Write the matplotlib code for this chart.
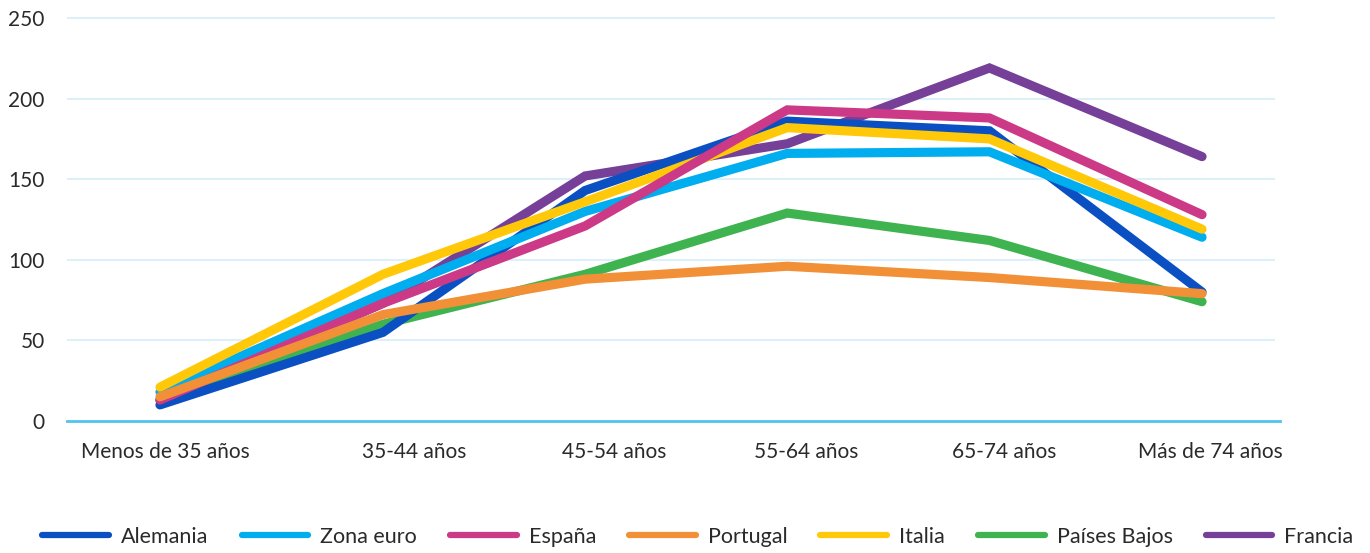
import matplotlib
matplotlib.use("Agg")
import matplotlib.pyplot as plt

plt.rcParams['font.family'] = ['Lato', 'DejaVu Sans']

categories = ["Menos de 35 años", "35-44 años", "45-54 años",
              "55-64 años", "65-74 años", "Más de 74 años"]

alemania = [10, 55, 143, 186, 180, 80]
zona_euro = [18, 79, 130, 166, 167, 114]
espana = [13, 73, 121, 193, 188, 128]
portugal = [15, 66, 88, 96, 89, 79]
italia = [21, 91, 136, 182, 175, 119]
paises_bajos = [13, 60, 91, 129, 112, 74]
francia = [13, 73, 152, 172, 219, 164]

y_ticks = [0, 50, 100, 150, 200, 250]

# series, legend order, colour and stacking order
series = [
    ("Alemania", alemania, "#0a50c2", 3),
    ("Zona euro", zona_euro, "#00adee", 4),
    ("España", espana, "#cc3986", 6),
    ("Portugal", portugal, "#f29038", 7),
    ("Italia", italia, "#ffc90a", 5),
    ("Países Bajos", paises_bajos, "#3fb34f", 2),
    ("Francia", francia, "#763f98", 1),
]

# horizontal placement of the age groups and their labels
point_x = [0, 1.07, 2.04, 3.01, 3.98, 5.0]
label_x = [0.025, 1.22, 2.18, 3.10, 4.05, 5.04]

fig = plt.figure(figsize=(13.70, 5.53), dpi=100)
ax = fig.add_axes([67 / 1370, 1 - 421 / 553, (1280 - 67) / 1370, (421 - 18) / 553])

for y in y_ticks[1:]:
    ax.plot([-0.446, 5.35], [y, y], color="#d4eef9", lw=1.2, zorder=0.5,
            clip_on=False, solid_capstyle="butt")
ax.axhline(0, color="#4fc4ef", lw=2.0, zorder=0.6, clip_on=False)

handles = []
for name, vals, col, z in series:
    ln, = ax.plot(point_x, vals, color=col, lw=6.6, zorder=z,
                  solid_capstyle="round", solid_joinstyle="miter", label=name)
    handles.append(ln)

ax.set_xlim(-0.446, 5.374)
ax.set_ylim(0, 250)
ax.set_yticks(y_ticks)
ax.set_yticklabels([str(v) for v in y_ticks])
ax.set_xticks(label_x)
ax.set_xticklabels(categories)
ax.tick_params(axis="both", length=0, labelsize=15, colors="#2a2a2a")
ax.tick_params(axis="y", pad=16)
ax.tick_params(axis="x", pad=15)
for s in ax.spines.values():
    s.set_visible(False)

leg_handles = [plt.Line2D([0], [0], color=h.get_color(), lw=4.5,
                          solid_capstyle="round") for h in handles]
fig.legend(leg_handles, [h.get_label() for h in handles], loc="center",
           bbox_to_anchor=(698 / 1370, 1 - 537 / 553), ncol=7, frameon=False,
           fontsize=15.5, handlelength=3.1, handletextpad=0.56, columnspacing=1.53,
           labelcolor="#2a2a2a")

fig.savefig("out.png", dpi=100)
